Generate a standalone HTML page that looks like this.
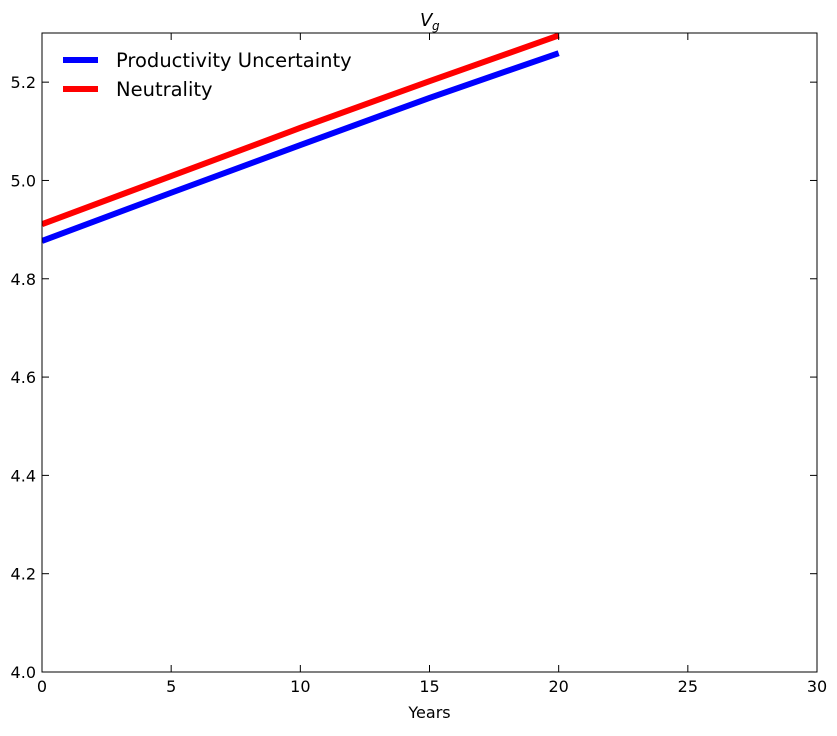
<!DOCTYPE html>
<html><head><meta charset="utf-8"><style>
body{margin:0;background:#fff;}
svg text{font-family:"DejaVu Sans","Liberation Sans",sans-serif;}
</style></head><body>
<svg id="chart" width="837" height="731" xmlns="http://www.w3.org/2000/svg"></svg>
<script>
const years = [0, 5, 10, 15, 20];
const productivityUncertainty = [4.877, 4.975, 5.072, 5.168, 5.259];
const neutrality = [4.911, 5.009, 5.107, 5.202, 5.295];
const xTicks = [0, 5, 10, 15, 20, 25, 30];
const yTicks = [4.0, 4.2, 4.4, 4.6, 4.8, 5.0, 5.2];

const L=42,R=817,T=33,B=672,xMin=0,xMax=30,yMin=4.0,yMax=5.3;
const sx=v=>L+(v-xMin)/(xMax-xMin)*(R-L);
const sy=v=>B-(v-yMin)/(yMax-yMin)*(B-T);
const svg=document.getElementById('chart');
const NS='http://www.w3.org/2000/svg';
function mk(tag,attrs,parent){const e=document.createElementNS(NS,tag);for(const k in attrs)e.setAttribute(k,attrs[k]);(parent||svg).appendChild(e);return e;}

mk('clipPath',{id:'plotclip'});
mk('rect',{x:L,y:T,width:R-L,height:B-T},svg.lastChild);

function series(vals,color,name){
  const p=mk('polyline',{points:years.map((x,i)=>sx(x)+','+sy(vals[i])).join(' '),fill:'none',stroke:color,'stroke-width':6,'clip-path':'url(#plotclip)'});
  
  
}
series(productivityUncertainty,'#0000ff','productivity-uncertainty-line');
series(neutrality,'#ff0000','neutrality-line');

const f=mk('rect',{x:L,y:T,width:R-L,height:B-T,fill:'none',stroke:'#000','stroke-width':1});



xTicks.forEach(t=>{
  const x=sx(t);
  mk('line',{x1:x,x2:x,y1:B,y2:B-7,stroke:'#000'});
  mk('line',{x1:x,x2:x,y1:T,y2:T+7,stroke:'#000'});
  const tx=mk('text',{x:x,y:B+20,'text-anchor':'middle','font-size':16});
  tx.textContent=t;
  
  
});
yTicks.forEach(t=>{
  const y=sy(t);
  mk('line',{x1:L,x2:L+7,y1:y,y2:y,stroke:'#000'});
  mk('line',{x1:R,x2:R-7,y1:y,y2:y,stroke:'#000'});
  const tx=mk('text',{x:L-6,y:y+6,'text-anchor':'end','font-size':16});
  tx.textContent=t.toFixed(1);
  
  
});

const xl=mk('text',{x:(L+R)/2,y:718,'text-anchor':'middle','font-size':16});
xl.textContent='Years';



const ti=mk('text',{x:420,y:26,'font-size':18,'font-style':'italic','font-family':'Liberation Serif, serif'});
ti.textContent='V';


const sub=mk('text',{x:432,y:30,'font-size':12,'font-style':'italic','font-family':'Liberation Serif, serif'});
sub.textContent='g';



[['Productivity Uncertainty','#0000ff',60],['Neutrality','#ff0000',89]].forEach(([lab,c,y])=>{
  const g=mk('g',{});
  
  
  mk('line',{x1:63,x2:98,y1:y,y2:y,stroke:c,'stroke-width':6},g);
  const t=mk('text',{x:116,y:y+7,'font-size':19.5},g);
  t.textContent=lab;
});
</script>
</body></html>
